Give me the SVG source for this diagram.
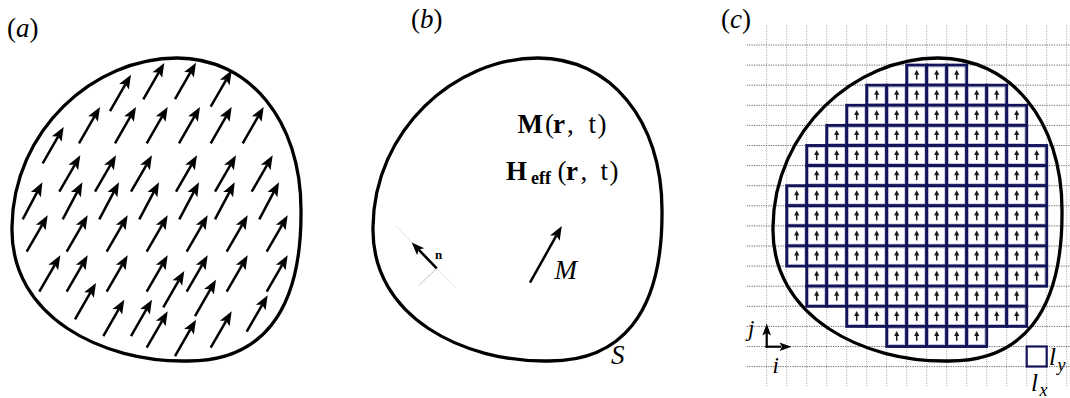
<svg xmlns="http://www.w3.org/2000/svg" width="1070" height="398" viewBox="0 0 1070 398">
<style>
.t{font-family:"Liberation Serif","Times New Roman","DejaVu Serif",serif;fill:#000}
.it{font-style:italic}
.b{font-weight:bold}
.blob{fill:none;stroke:#000;stroke-width:3.3}
.shaft{stroke:#000;stroke-width:2.5;fill:none}
.head{fill:#000}
.hgrid{stroke:#555;stroke-width:0.9;stroke-dasharray:1.2 1.2;fill:none}
.vgrid{stroke:#aaa;stroke-width:0.9;stroke-dasharray:1 1;fill:none}
</style>
<defs>
<path id="blob" d="M538,58 C610,58 662,120 662,210 C663,315 620,362 547,361 C465,362 371,318 373,227 C374,130 455,58 538,58 Z"/>
<g id="ar">
<line class="shaft" x1="0" y1="0" x2="0" y2="-31"/>
<path class="head" d="M0,-42 L5.6,-28 L0,-31 L-5.6,-28 Z"/>
</g>
<g id="cell">
<rect x="0" y="0" width="20" height="20.1" fill="#fff" stroke="#13135a" stroke-width="2.9"/>
<rect x="1.9" y="1.9" width="16.2" height="16.3" fill="none" stroke="#9fa1c4" stroke-width="0.6"/>
<line x1="10" y1="14.5" x2="10" y2="8.5" stroke="#1a1a1a" stroke-width="1.5"/>
<path d="M10,4.6 L12.6,9.6 L7.4,9.6 Z" fill="#1a1a1a"/>
</g>
</defs>

<!-- Panel (a) -->
<g id="panel-a">
<text class="t" x="7" y="37" font-size="27">(<tspan class="it">a</tspan>)</text>
<use href="#blob" class="blob" transform="translate(-361,0)"/>
<g id="arrows-a">
<use href="#ar" transform="translate(110,111) rotate(30)"/>
<use href="#ar" transform="translate(143.3,99.3) rotate(30)"/>
<use href="#ar" transform="translate(175,99) rotate(30)"/>
<use href="#ar" transform="translate(210.7,106.7) rotate(30)"/>
<use href="#ar" transform="translate(42.7,163.3) rotate(30)"/>
<use href="#ar" transform="translate(79,143.3) rotate(30)"/>
<use href="#ar" transform="translate(115,143.3) rotate(30)"/>
<use href="#ar" transform="translate(146.7,143.3) rotate(30)"/>
<use href="#ar" transform="translate(179,143.3) rotate(30)"/>
<use href="#ar" transform="translate(210.7,143.3) rotate(30)"/>
<use href="#ar" transform="translate(242.7,143.3) rotate(30)"/>
<use href="#ar" transform="translate(59.3,191.7) rotate(30)"/>
<use href="#ar" transform="translate(95,191.7) rotate(30)"/>
<use href="#ar" transform="translate(131,191.7) rotate(30)"/>
<use href="#ar" transform="translate(176,191.7) rotate(30)"/>
<use href="#ar" transform="translate(215,191.7) rotate(30)"/>
<use href="#ar" transform="translate(251.7,191.7) rotate(30)"/>
<use href="#ar" transform="translate(22.7,219.3) rotate(28)"/>
<use href="#ar" transform="translate(62.7,219.3) rotate(28)"/>
<use href="#ar" transform="translate(99.3,219.3) rotate(28)"/>
<use href="#ar" transform="translate(139.3,219.3) rotate(28)"/>
<use href="#ar" transform="translate(179.3,219.3) rotate(28)"/>
<use href="#ar" transform="translate(215,219.3) rotate(28)"/>
<use href="#ar" transform="translate(259.3,219.3) rotate(28)"/>
<use href="#ar" transform="translate(26.7,251.7) rotate(30)"/>
<use href="#ar" transform="translate(66.7,251.7) rotate(30)"/>
<use href="#ar" transform="translate(106.7,251.7) rotate(30)"/>
<use href="#ar" transform="translate(146.7,251.7) rotate(30)"/>
<use href="#ar" transform="translate(186.7,251.7) rotate(30)"/>
<use href="#ar" transform="translate(226.7,251.7) rotate(30)"/>
<use href="#ar" transform="translate(266.7,251.7) rotate(30)"/>
<use href="#ar" transform="translate(39.3,291.7) rotate(30)"/>
<use href="#ar" transform="translate(66.7,291.7) rotate(30)"/>
<use href="#ar" transform="translate(106.7,291.7) rotate(30)"/>
<use href="#ar" transform="translate(146.7,291.7) rotate(30)"/>
<use href="#ar" transform="translate(186.7,291.7) rotate(30)"/>
<use href="#ar" transform="translate(226.7,291.7) rotate(30)"/>
<use href="#ar" transform="translate(266.7,291.7) rotate(30)"/>
<use href="#ar" transform="translate(163.3,307.3) rotate(30)"/>
<use href="#ar" transform="translate(75,319.3) rotate(30)"/>
<use href="#ar" transform="translate(195,316) rotate(30)"/>
<use href="#ar" transform="translate(103.3,336) rotate(30)"/>
<use href="#ar" transform="translate(131,336) rotate(30)"/>
<use href="#ar" transform="translate(146.7,347.7) rotate(30)"/>
<use href="#ar" transform="translate(175,356) rotate(30)"/>
<use href="#ar" transform="translate(210.7,347.7) rotate(30)"/>
<use href="#ar" transform="translate(246.7,331.7) rotate(30)"/>
</g>
</g>

<!-- Panel (b) -->
<g id="panel-b">
<text class="t" x="411" y="28" font-size="27">(<tspan class="it">b</tspan>)</text>
<use href="#blob" class="blob"/>
<g id="label-M-rt">
<text class="t" font-size="27" y="133"><tspan class="b" x="517.5">M</tspan><tspan x="545">(</tspan><tspan class="b" x="553">r</tspan><tspan x="567">,</tspan><tspan x="588.5">t</tspan><tspan x="597.5">)</tspan></text>
</g>
<g id="label-Heff-rt">
<text class="t" font-size="27" y="180"><tspan class="b" x="506">H</tspan><tspan class="b" x="531" y="184" font-size="18">eff</tspan><tspan x="557.5" y="180">(</tspan><tspan class="b" x="566">r</tspan><tspan x="580.5">,</tspan><tspan x="600.5">t</tspan><tspan x="609.5">)</tspan></text>
</g>
<g id="normal">
<line x1="396" y1="226" x2="456" y2="288" stroke="#bbb" stroke-width="0.8" stroke-dasharray="1 1"/>
<line x1="436.7" y1="268.3" x2="419.3" y2="285" stroke="#777" stroke-width="0.9" stroke-dasharray="1.4 1.4"/>
<g transform="translate(436.7,268.3) rotate(-44)">
<line x1="0" y1="0" x2="0" y2="-26" stroke="#000" stroke-width="2.6"/>
<path class="head" d="M0,-36 L5,-23 L0,-26 L-5,-23 Z"/>
</g>
<text class="t b" x="435" y="258.5" font-size="13">n</text>
</g>
<g id="vector-M">
<g transform="translate(530,282.7) rotate(29.2)">
<line x1="0" y1="0" x2="0" y2="-54" stroke="#000" stroke-width="2.5"/>
<path class="head" d="M0,-65 L5.5,-51 L0,-54 L-5.5,-51 Z"/>
</g>
<text class="t it" x="554.5" y="279" font-size="27">M</text>
</g>
<text class="t it" x="611" y="363.5" font-size="27">S</text>
</g>

<!-- Panel (c) -->
<g id="panel-c">
<text class="t" x="721" y="28" font-size="27">(<tspan class="it">c</tspan>)</text>
<g id="grid">
<path class="vgrid" d="M766.7,25V386M786.7,25V386M806.7,25V386M826.7,25V386M846.7,25V386M866.7,25V386M886.7,25V386M906.7,25V386M926.7,25V386M946.7,25V386M966.7,25V386M986.7,25V386M1006.7,25V386M1026.7,25V386M1046.7,25V386M1066.7,25V386"/>
<path class="hgrid" d="M746.7,45H1070M746.7,65.1H1070M746.7,85.2H1070M746.7,105.3H1070M746.7,125.4H1070M746.7,145.5H1070M746.7,165.6H1070M746.7,185.7H1070M746.7,205.8H1070M746.7,225.9H1070M746.7,246H1070M746.7,266.1H1070M746.7,286.2H1070M746.7,306.3H1070M746.7,326.4H1070M746.7,346.5H1070M746.7,366.6H1070"/>
</g>
<g id="cells">
<g transform="translate(0,65.1)"><use href="#cell" x="906.7"/><use href="#cell" x="926.7"/><use href="#cell" x="946.7"/></g>
<g transform="translate(0,85.2)"><use href="#cell" x="866.7"/><use href="#cell" x="886.7"/><use href="#cell" x="906.7"/><use href="#cell" x="926.7"/><use href="#cell" x="946.7"/><use href="#cell" x="966.7"/><use href="#cell" x="986.7"/></g>
<g transform="translate(0,105.3)"><use href="#cell" x="846.7"/><use href="#cell" x="866.7"/><use href="#cell" x="886.7"/><use href="#cell" x="906.7"/><use href="#cell" x="926.7"/><use href="#cell" x="946.7"/><use href="#cell" x="966.7"/><use href="#cell" x="986.7"/><use href="#cell" x="1006.7"/></g>
<g transform="translate(0,125.4)"><use href="#cell" x="826.7"/><use href="#cell" x="846.7"/><use href="#cell" x="866.7"/><use href="#cell" x="886.7"/><use href="#cell" x="906.7"/><use href="#cell" x="926.7"/><use href="#cell" x="946.7"/><use href="#cell" x="966.7"/><use href="#cell" x="986.7"/><use href="#cell" x="1006.7"/></g>
<g transform="translate(0,145.5)"><use href="#cell" x="806.7"/><use href="#cell" x="826.7"/><use href="#cell" x="846.7"/><use href="#cell" x="866.7"/><use href="#cell" x="886.7"/><use href="#cell" x="906.7"/><use href="#cell" x="926.7"/><use href="#cell" x="946.7"/><use href="#cell" x="966.7"/><use href="#cell" x="986.7"/><use href="#cell" x="1006.7"/><use href="#cell" x="1026.7"/></g>
<g transform="translate(0,165.6)"><use href="#cell" x="806.7"/><use href="#cell" x="826.7"/><use href="#cell" x="846.7"/><use href="#cell" x="866.7"/><use href="#cell" x="886.7"/><use href="#cell" x="906.7"/><use href="#cell" x="926.7"/><use href="#cell" x="946.7"/><use href="#cell" x="966.7"/><use href="#cell" x="986.7"/><use href="#cell" x="1006.7"/><use href="#cell" x="1026.7"/></g>
<g transform="translate(0,185.7)"><use href="#cell" x="786.7"/><use href="#cell" x="806.7"/><use href="#cell" x="826.7"/><use href="#cell" x="846.7"/><use href="#cell" x="866.7"/><use href="#cell" x="886.7"/><use href="#cell" x="906.7"/><use href="#cell" x="926.7"/><use href="#cell" x="946.7"/><use href="#cell" x="966.7"/><use href="#cell" x="986.7"/><use href="#cell" x="1006.7"/><use href="#cell" x="1026.7"/></g>
<g transform="translate(0,205.8)"><use href="#cell" x="786.7"/><use href="#cell" x="806.7"/><use href="#cell" x="826.7"/><use href="#cell" x="846.7"/><use href="#cell" x="866.7"/><use href="#cell" x="886.7"/><use href="#cell" x="906.7"/><use href="#cell" x="926.7"/><use href="#cell" x="946.7"/><use href="#cell" x="966.7"/><use href="#cell" x="986.7"/><use href="#cell" x="1006.7"/><use href="#cell" x="1026.7"/></g>
<g transform="translate(0,225.9)"><use href="#cell" x="786.7"/><use href="#cell" x="806.7"/><use href="#cell" x="826.7"/><use href="#cell" x="846.7"/><use href="#cell" x="866.7"/><use href="#cell" x="886.7"/><use href="#cell" x="906.7"/><use href="#cell" x="926.7"/><use href="#cell" x="946.7"/><use href="#cell" x="966.7"/><use href="#cell" x="986.7"/><use href="#cell" x="1006.7"/><use href="#cell" x="1026.7"/></g>
<g transform="translate(0,246)"><use href="#cell" x="786.7"/><use href="#cell" x="806.7"/><use href="#cell" x="826.7"/><use href="#cell" x="846.7"/><use href="#cell" x="866.7"/><use href="#cell" x="886.7"/><use href="#cell" x="906.7"/><use href="#cell" x="926.7"/><use href="#cell" x="946.7"/><use href="#cell" x="966.7"/><use href="#cell" x="986.7"/><use href="#cell" x="1006.7"/><use href="#cell" x="1026.7"/></g>
<g transform="translate(0,266.1)"><use href="#cell" x="806.7"/><use href="#cell" x="826.7"/><use href="#cell" x="846.7"/><use href="#cell" x="866.7"/><use href="#cell" x="886.7"/><use href="#cell" x="906.7"/><use href="#cell" x="926.7"/><use href="#cell" x="946.7"/><use href="#cell" x="966.7"/><use href="#cell" x="986.7"/><use href="#cell" x="1006.7"/><use href="#cell" x="1026.7"/></g>
<g transform="translate(0,286.2)"><use href="#cell" x="806.7"/><use href="#cell" x="826.7"/><use href="#cell" x="846.7"/><use href="#cell" x="866.7"/><use href="#cell" x="886.7"/><use href="#cell" x="906.7"/><use href="#cell" x="926.7"/><use href="#cell" x="946.7"/><use href="#cell" x="966.7"/><use href="#cell" x="986.7"/><use href="#cell" x="1006.7"/></g>
<g transform="translate(0,306.3)"><use href="#cell" x="846.7"/><use href="#cell" x="866.7"/><use href="#cell" x="886.7"/><use href="#cell" x="906.7"/><use href="#cell" x="926.7"/><use href="#cell" x="946.7"/><use href="#cell" x="966.7"/><use href="#cell" x="986.7"/><use href="#cell" x="1006.7"/></g>
<g transform="translate(0,326.4)"><use href="#cell" x="886.7"/><use href="#cell" x="906.7"/><use href="#cell" x="926.7"/><use href="#cell" x="946.7"/><use href="#cell" x="966.7"/></g>
</g>
<use href="#blob" class="blob" transform="translate(400,0)"/>
<g id="axes">
<line x1="766.7" y1="347.8" x2="766.7" y2="333" stroke="#000" stroke-width="2.2"/>
<path class="head" d="M766.7,323.5 L771,335.5 L766.7,333 L762.4,335.5 Z"/>
<line x1="765.6" y1="346.7" x2="781" y2="346.7" stroke="#000" stroke-width="2.2"/>
<path class="head" d="M791.5,346.7 L779.5,351 L782,346.7 L779.5,342.4 Z"/>
<text class="t it" x="748" y="336" font-size="23">j</text>
<text class="t it" x="772.5" y="372.5" font-size="23">i</text>
</g>
<g id="unit-cell">
<rect x="1026.7" y="346.5" width="20" height="20" fill="#fff" stroke="#13135a" stroke-width="2.2"/>
<text class="t it" x="1049" y="365" font-size="25">l<tspan x="1057.5" y="370.5" font-size="18">y</tspan></text>
<text class="t it" x="1031" y="391" font-size="25">l<tspan x="1039.5" y="396" font-size="18">x</tspan></text>
</g>
</g>
</svg>
